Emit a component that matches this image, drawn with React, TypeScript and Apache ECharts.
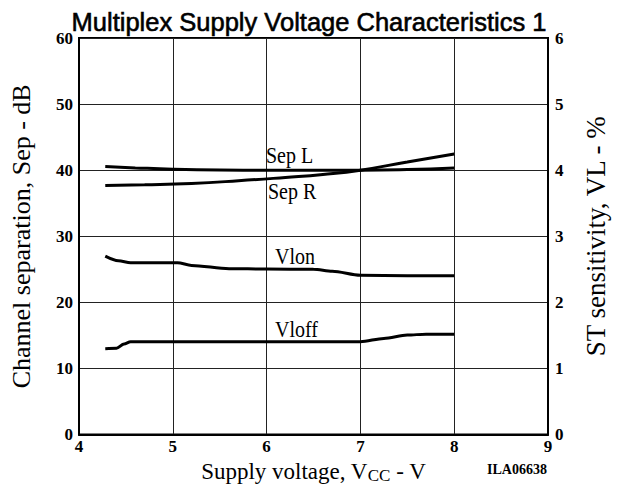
import React, { useEffect, useRef } from "react";
import * as echarts from "echarts";

const sepL: [number, number][] = [
  [4.28, 40.55], [4.6, 40.35], [5, 40.15], [5.5, 40.03], [6, 40], [6.5, 40], [7, 40], [7.5, 40.1], [8, 40.35],
];
const sepR: [number, number][] = [
  [4.28, 37.7], [4.7, 37.8], [5.2, 38.0], [5.7, 38.4], [6.2, 38.9], [6.6, 39.35], [7, 40], [7.5, 41.25], [8, 42.45],
];
const vlon: [number, number][] = [
  [4.28, 27.0], [4.42, 26.3], [4.55, 26.0], [4.7, 26], [5.05, 26], [5.2, 25.6], [5.6, 25.1], [6, 25.05], [6.5, 25], [6.7, 24.7], [7, 24.1], [7.5, 24.05], [8, 24.05],
];
const vloff: [number, number][] = [
  [4.28, 13.0], [4.4, 13.05], [4.48, 13.7], [4.55, 14.05], [5, 14.05], [6, 14.05], [7, 14.05], [7.25, 14.55], [7.5, 15.05], [7.7, 15.2], [8, 15.2],
];

const xTicks = [4, 5, 6, 7, 8, 9];
const leftTicks = [0, 10, 20, 30, 40, 50, 60];
const rightTicks = [0, 1, 2, 3, 4, 5, 6];

const curveLabels = [
  { text: "Sep L", x: 266, y: 144 },
  { text: "Sep R", x: 268, y: 180 },
  { text: "Vlon", x: 275, y: 245 },
  { text: "Vloff", x: 275, y: 318 },
];

export default function App() {
  const ref = useRef<HTMLDivElement>(null);
  useEffect(() => {
    if (!ref.current) return;
    const chart = echarts.init(ref.current, null, { renderer: "svg" });
    const serif = "Liberation Serif";
    const lineSeries = (name: string, data: [number, number][], smooth: number, mono: boolean) => ({
      name,
      type: "line",
      data,
      smooth,
      smoothMonotone: mono ? "x" : undefined,
      showSymbol: false,
      lineStyle: { color: "#000", width: 3 },
      silent: true,
    });
    const tickLabel = (list: number[]) => ({
      fontFamily: serif,
      fontWeight: "bold",
      fontSize: 17,
      color: "#000",
      formatter: (v: number) => (list.includes(v) ? String(v) : ""),
    });
    chart.setOption({
      animation: false,
      backgroundColor: "#fff",
      title: {
        text: "Multiplex Supply Voltage Characteristics 1",
        left: 304,
        textAlign: "center",
        top: 4,
        textStyle: {
          fontFamily: "Liberation Sans",
          fontSize: 25.5,
          fontWeight: "normal",
          color: "#000",
          textBorderColor: "#000",
          textBorderWidth: 0.6,
        },
      },
      grid: {
        left: 69.5,
        right: 83,
        top: 38,
        bottom: 51.5,
        show: true,
        borderColor: "#000",
        borderWidth: 2,
      },
      xAxis: {
        type: "value",
        min: 4,
        max: 9,
        interval: 1,
        axisLine: { show: true, lineStyle: { color: "#000", width: 2 } },
        axisTick: { show: false },
        splitLine: { show: true, lineStyle: { color: "#222", width: 1 } },
        axisLabel: { ...tickLabel(xTicks), margin: 3 },
        name: "{a|Supply voltage, V}{s|CC}{a| - V}",
        nameLocation: "middle",
        nameGap: 14,
        nameTextStyle: {
          rich: {
            a: { fontFamily: serif, fontSize: 23, color: "#000" },
            s: { fontFamily: serif, fontSize: 17, color: "#000", padding: [9, 0, 0, 0] },
          },
        },
      },
      yAxis: [
        {
          type: "value",
          min: 0,
          max: 60,
          interval: 10,
          axisLine: { show: true, lineStyle: { color: "#000", width: 2 } },
          axisTick: { show: false },
          splitLine: { show: true, lineStyle: { color: "#222", width: 1 } },
          axisLabel: { ...tickLabel(leftTicks), margin: 6 },
          name: "Channel separation, Sep - dB",
          nameLocation: "middle",
          nameGap: 45,
          nameTextStyle: { fontFamily: serif, fontSize: 26, color: "#000" },
        },
        {
          type: "value",
          min: 0,
          max: 6,
          interval: 1,
          position: "right",
          axisLine: { show: true, lineStyle: { color: "#000", width: 2 } },
          axisTick: { show: false },
          splitLine: { show: false },
          axisLabel: { ...tickLabel(rightTicks), margin: 7 },
          name: "ST sensitivity, VL - %",
          nameLocation: "middle",
          nameGap: 34,
          nameRotate: 90,
          nameTextStyle: { fontFamily: serif, fontSize: 27, color: "#000" },
        },
      ],
      series: [
        lineSeries("Sep L", sepL, 0.5, false),
        lineSeries("Sep R", sepR, 0.5, false),
        lineSeries("Vlon", vlon, 0.3, true),
        lineSeries("Vloff", vloff, 0.3, true),
      ],
      graphic: [
        ...curveLabels.map((l) => ({
          type: "text",
          x: l.x,
          y: l.y,
          scaleY: 1.15,
          style: { text: l.text, fontFamily: serif, fontSize: 20, fill: "#000" },
        })),
        {
          type: "text",
          x: 487,
          y: 462,
          style: { text: "ILA06638", fontFamily: serif, fontWeight: "bold", fontSize: 14, fill: "#000" },
        },
      ],
    });
    return () => chart.dispose();
  }, []);
  return <div ref={ref} style={{ position: "absolute", left: 0, top: 0, width: 631, height: 489 }} />;
}
